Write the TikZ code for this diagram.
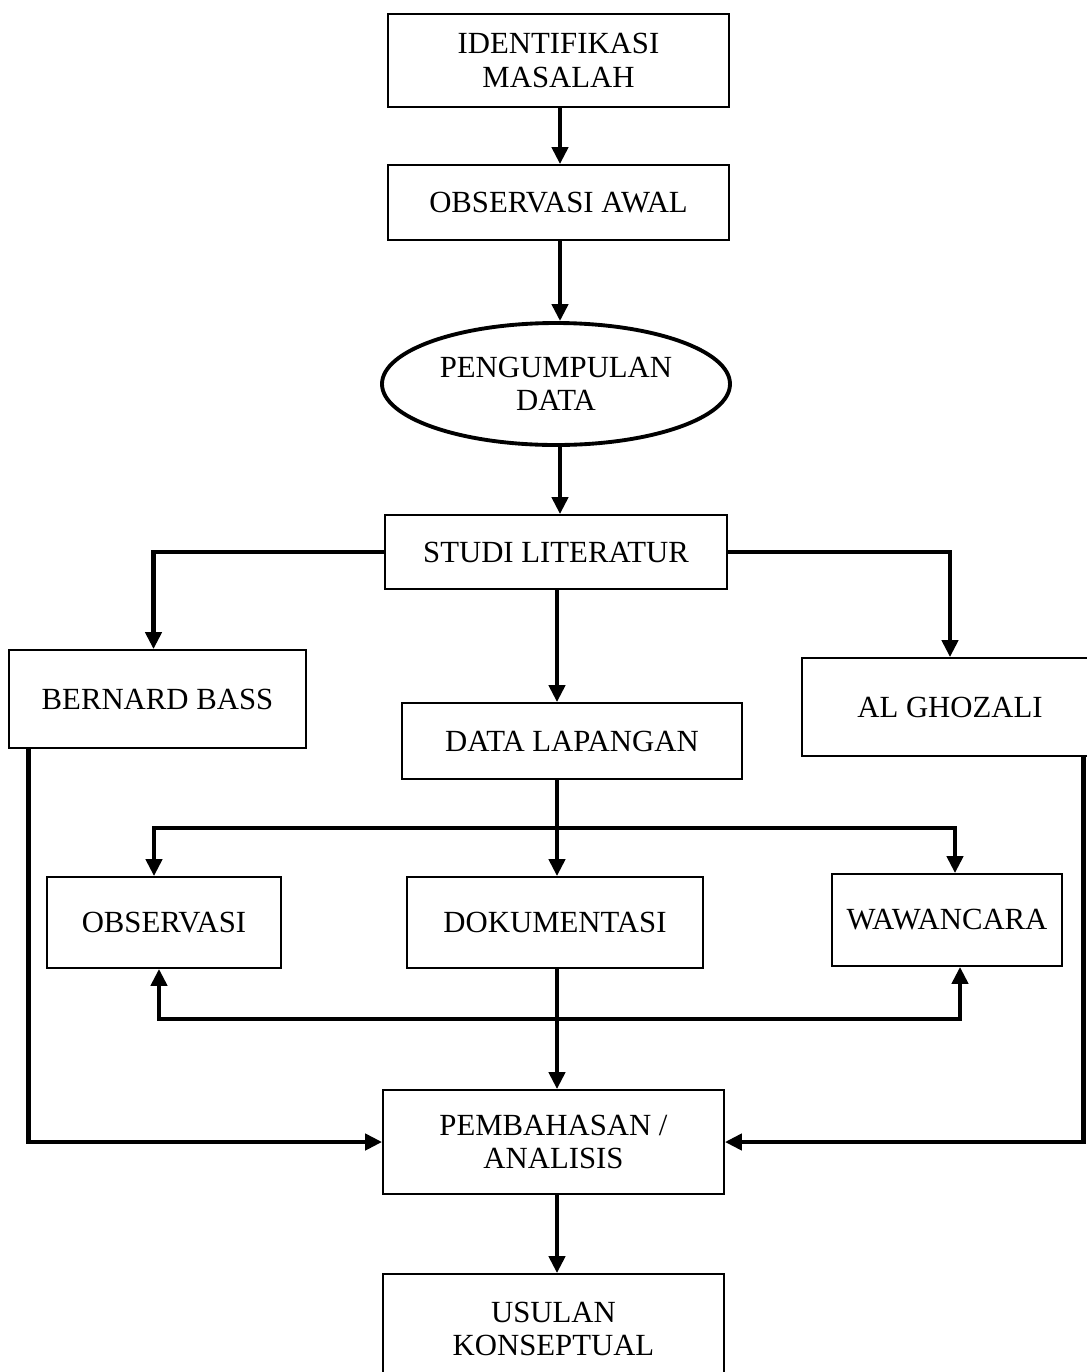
\documentclass[tikz,border=0pt]{standalone}
\usepackage{fontspec}
\setmainfont{Liberation Serif}
\usetikzlibrary{arrows.meta,shapes.geometric,calc}
\begin{document}
\begin{tikzpicture}[every node/.style={font=\fontsize{17.5}{19}\selectfont},
  box/.style={draw,line width=1pt,align=center,inner sep=2pt},
  oval/.style={draw,ellipse,line width=2.2pt,align=center,inner sep=1pt},
  arr/.style={-{Triangle[length=0.34cm,width=0.32cm]},line width=2.8pt}]
\useasboundingbox (0,0) rectangle (21.74,-27.44);
\node[box,minimum width=6.82cm,minimum height=1.86cm] (idm) at (11.17,-1.21) {IDENTIFIKASI\\MASALAH};
\node[box,minimum width=6.82cm,minimum height=1.5cm] (obsaw) at (11.17,-4.05) {OBSERVASI AWAL};
\node[oval,minimum width=6.96cm,minimum height=2.44cm] (pd) at (11.12,-7.68) {PENGUMPULAN\\DATA};
\node[box,minimum width=6.84cm,minimum height=1.48cm] (studi) at (11.12,-11.04) {STUDI LITERATUR};
\node[box,minimum width=5.94cm,minimum height=1.96cm] (bb) at (3.15,-13.98) {BERNARD BASS};
\node[box,minimum width=6.8cm,minimum height=1.52cm] (dl) at (11.44,-14.82) {DATA LAPANGAN};
\node[box,minimum width=5.92cm,minimum height=1.96cm] (alg) at (19.0,-14.14) {AL GHOZALI};
\node[box,minimum width=4.68cm,minimum height=1.82cm] (obs) at (3.28,-18.45) {OBSERVASI};
\node[box,minimum width=5.92cm,minimum height=1.82cm] (dok) at (11.1,-18.45) {DOKUMENTASI};
\node[box,minimum width=4.6cm,minimum height=1.84cm] (waw) at (18.94,-18.4) {WAWANCARA};
\node[box,minimum width=6.82cm,minimum height=2.08cm] (bahas) at (11.07,-22.84) {PEMBAHASAN /\\ANALISIS};
\node[box,minimum width=6.82cm,minimum height=2.2cm] (usul) at (11.07,-26.58) {USULAN\\KONSEPTUAL};
\coordinate (spine) at (11.2,0);
\coordinate (fork) at (11.14,-16.56);
\coordinate (join) at (11.14,-20.38);
\draw[arr] (idm.south -| spine) -- (obsaw.north -| spine);
\draw[arr] (obsaw.south -| spine) -- (pd.north -| spine);
\draw[arr] (pd.south -| spine) -- (studi.north -| spine);
\draw[arr] (studi.west) -| ([xshift=-0.08cm]bb.north);
\draw[arr] (studi.east) -| (alg.north);
\draw[arr] (studi.south -| fork) -- (dl.north -| fork);
\draw[arr] (dl.south -| fork) -- (dok.north -| fork);
\draw[arr] (fork) -| ([xshift=-0.2cm]obs.north);
\draw[arr] (fork) -| ([xshift=0.16cm]waw.north);
\draw[arr] (dok.south -| join) -- (bahas.north -| join);
\draw[arr] (join) -| ([xshift=-0.1cm]obs.south);
\draw[arr] (join) -| ([xshift=0.26cm]waw.south);
\draw[arr] ([xshift=0.4cm]bb.south west) |- (bahas.west);
\draw[arr] ([xshift=-0.3cm]alg.south east) |- (bahas.east);
\draw[arr] (bahas.south -| join) -- (usul.north -| join);
\end{tikzpicture}
\end{document}
